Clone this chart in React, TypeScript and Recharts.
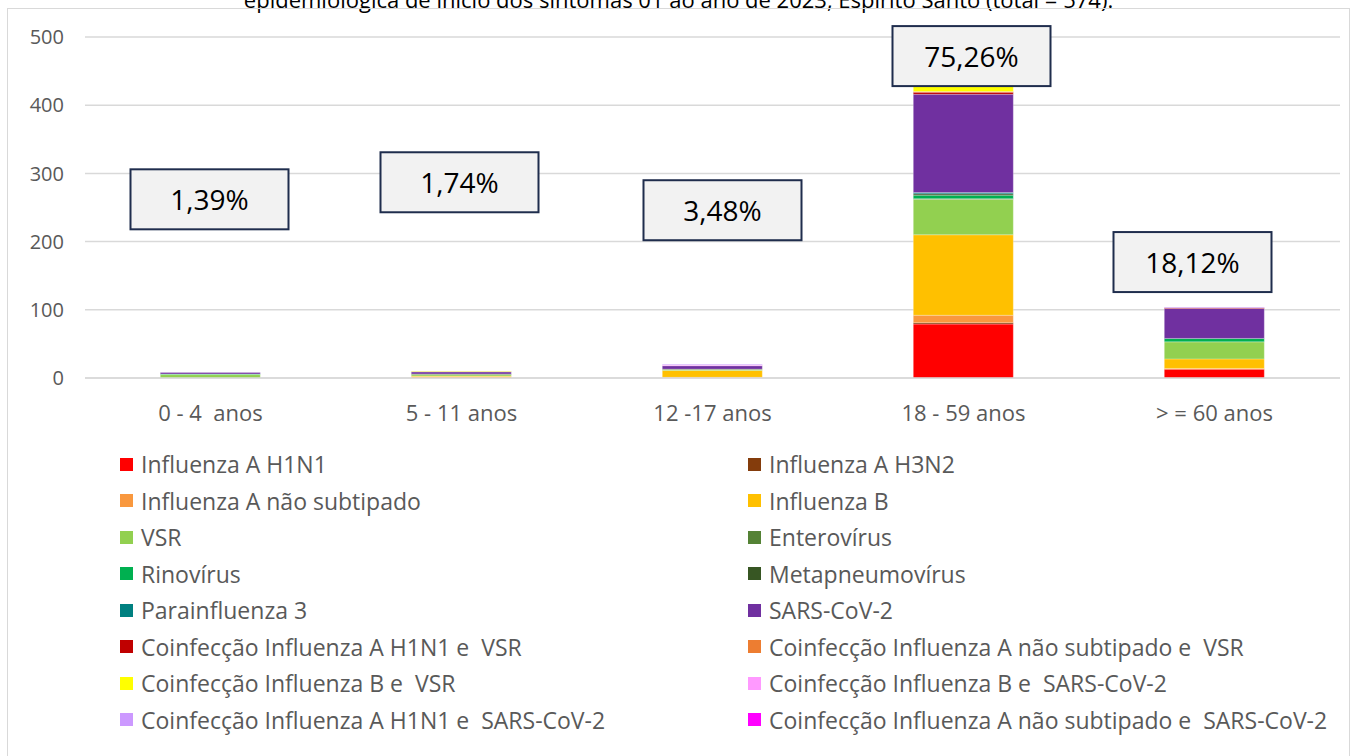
import {Bar, BarChart, CartesianGrid, Legend, ReferenceDot, XAxis, YAxis} from 'recharts'

const categories = ['0 - 4  anos', '5 - 11 anos', '12 -17 anos', '18 - 59 anos', '> = 60 anos']

const seriesNames = [
    'Influenza A H1N1',
    'Influenza A H3N2',
    'Influenza A não subtipado',
    'Influenza B',
    'VSR',
    'Enterovírus',
    'Rinovírus',
    'Metapneumovírus',
    'Parainfluenza 3',
    'SARS-CoV-2',
    'Coinfecção Influenza A H1N1 e  VSR',
    'Coinfecção Influenza A não subtipado e  VSR',
    'Coinfecção Influenza B e  VSR',
    'Coinfecção Influenza B e  SARS-CoV-2',
    'Coinfecção Influenza A H1N1 e  SARS-CoV-2',
    'Coinfecção Influenza A não subtipado e  SARS-CoV-2',
]

const seriesColors = [
    '#FF0000', '#843C0C', '#F9983E', '#FFC000', '#92D050', '#548235', '#00B050', '#375623',
    '#008080', '#7030A0', '#C00000', '#ED7D31', '#FFFF00', '#FF99FF', '#CC99FF', '#FF00FF',
]

// one row per series, one value per age group
const h1n1 = [0, 0, 0, 79, 13]
const h3n2 = [0, 0, 0, 2, 0]
const fluANaoSub = [0, 2, 1, 11, 1]
const fluB = [0, 1, 10, 118, 14]
const vsr = [5, 2, 2, 52, 25]
const enterovirus = [0, 0, 0, 1, 0]
const rinovirus = [1, 0, 0, 5, 5]
const metapneumo = [0, 1, 0, 2, 0]
const parainfluenza3 = [0, 0, 0, 2, 0]
const sarsCov2 = [2, 3, 5, 144, 44]
const coH1n1Vsr = [0, 0, 0, 3, 1]
const coANaoSubVsr = [0, 0, 0, 1, 0]
const coBVsr = [0, 1, 0, 10, 0]
const coBSars = [0, 0, 1, 1, 0]
const coH1n1Sars = [0, 0, 1, 1, 1]
const coANaoSubSars = [0, 0, 0, 0, 0]

const seriesValues = [
    h1n1, h3n2, fluANaoSub, fluB, vsr, enterovirus, rinovirus, metapneumo,
    parainfluenza3, sarsCov2, coH1n1Vsr, coANaoSubVsr, coBVsr, coBSars, coH1n1Sars, coANaoSubSars,
]

const percentLabels = ['1,39%', '1,74%', '3,48%', '75,26%', '18,12%']
// where the callout boxes sit, in axis units (y) and pixels from the category centre (x)
const labelY = [262, 287, 246, 472, 170]
const labelDx = [-1, -2, 10, 8, -22]

const yTicks = [0, 100, 200, 300, 400, 500]

const FONT = '"Open Sans", "Noto Sans", sans-serif'
const TEXT = '#595959'

const data = categories.map((name, i) => {
    const row: Record<string, string | number> = {name}
    seriesNames.forEach((s, j) => {
        row[`s${j}`] = seriesValues[j][i]
    })
    return row
})

function CalloutBox({cx, cy, text, dx}: { cx?: number; cy?: number; text: string; dx: number }) {
    if (cx == null || cy == null) return <g/>
    const w = 158
    const h = 60
    const x = cx + dx
    return (
        <g>
            <rect x={x - w / 2} y={cy - h / 2} width={w} height={h} fill="#F2F2F2" stroke="#1F2D4D" strokeWidth={2}/>
            <text x={x} y={cy} textAnchor="middle" dominantBaseline="central" fontSize={28}
                  fontFamily={FONT} fill="#000">{text}</text>
        </g>
    )
}

function LegendGrid() {
    return (
        <div style={{
            height: 310, paddingTop: 18, boxSizing: 'border-box', paddingLeft: 120,
            display: 'grid', gridTemplateColumns: '628px 600px', gridAutoRows: '36.5px',
            fontFamily: FONT, fontSize: 23, color: TEXT,
        }}>
            {seriesNames.map((name, i) => (
                <div key={name} style={{display: 'flex', alignItems: 'center', whiteSpace: 'pre'}}>
                    <span style={{
                        width: 13, height: 13, background: seriesColors[i], marginRight: 8, flex: 'none',
                    }}/>
                    {name}
                </div>
            ))}
        </div>
    )
}

function CategoryTick({x, y, payload}: { x?: number; y?: number; payload?: { value: string } }) {
    return (
        <text x={x} y={y} dy="0.71em" textAnchor="middle" fontSize={22} fontFamily={FONT} fill={TEXT}
              style={{whiteSpace: 'pre'}}>
            {payload?.value}
        </text>
    )
}

export default function App() {
    return (
        <div style={{position: 'absolute', left: 0, top: 0, width: 1357, height: 756, overflow: 'hidden', background: '#fff'}}>
            <div style={{
                position: 'absolute', left: 0, right: 0, top: -16, textAlign: 'center',
                fontFamily: FONT, fontSize: 22, color: '#000', whiteSpace: 'nowrap',
            }}>
                epidemiológica de início dos sintomas 01 ao ano de 2023, Espírito Santo (total = 574).
            </div>
            <div style={{
                position: 'absolute', left: 7, top: 8, width: 1343, height: 800,
                border: '1px solid #D9D9D9', boxSizing: 'border-box',
            }}/>
            <div style={{position: 'absolute', left: 0, top: 0}}>
                <BarChart width={1357} height={756} data={data} barCategoryGap="30%"
                          margin={{top: 37, right: 17, bottom: 18, left: 25}}>
                    <CartesianGrid vertical={false} stroke="#D9D9D9" strokeWidth={1.5}/>
                    <XAxis dataKey="name" height={50} tickLine={false} tickMargin={21}
                           axisLine={{stroke: '#D9D9D9', strokeWidth: 1.5}} tick={<CategoryTick/>}/>
                    <YAxis domain={[0, 500]} ticks={yTicks} width={60} axisLine={false} tickLine={false}
                           tickMargin={15} tick={{fill: TEXT, fontSize: 20, fontFamily: FONT}}/>
                    <Legend verticalAlign="bottom" content={<LegendGrid/>}
                            wrapperStyle={{left: 0, width: 1357}}/>
                    {seriesNames.map((name, j) => (
                        <Bar key={name} dataKey={`s${j}`} name={name} stackId="a" fill={seriesColors[j]}
                             stroke="rgba(255,255,255,0.25)" strokeWidth={1} isAnimationActive={false}/>
                    ))}
                    {categories.map((c, i) => (
                        <ReferenceDot key={c} x={c} y={labelY[i]} r={0}
                                      shape={(p: any) => <CalloutBox cx={p.cx} cy={p.cy} text={percentLabels[i]} dx={labelDx[i]}/>}/>
                    ))}
                </BarChart>
            </div>
        </div>
    )
}
